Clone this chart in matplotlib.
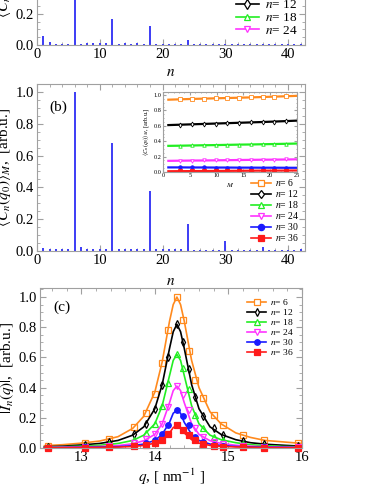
import matplotlib
matplotlib.use('Agg')
import matplotlib.pyplot as plt
from matplotlib.ticker import MultipleLocator

plt.rcParams['font.family'] = ['Liberation Serif', 'DejaVu Serif']
plt.rcParams['mathtext.fontset'] = 'stix'

# ---- data ----
n_vals = list(range(1, 43))
# panel (a): <C_n>_M at some q (top cut in the crop)
a_vals = [0.055, 0.02, 0.008, 0.008, 0.008, 1.0, 0.008, 0.01, 0.012, 0.015, 0.01, 0.17,
          0.008, 0.012, 0.008, 0.01, 0.008, 0.12, 0.008, 0.008, 0.008, 0.008, 0.008, 0.03,
          0.008, 0.008, 0.008, 0.008, 0.008, 0.008, 0.008, 0.008, 0.008, 0.008, 0.008, 0.008,
          0.008, 0.008, 0.008, 0.008, 0.008, 0.008]
# panel (b): <C_n(q0)>_M
b_vals = [0.022, 0.015, 0.01, 0.012, 0.015, 1.0, 0.025, 0.015, 0.01, 0.012, 0.01, 0.68,
          0.015, 0.012, 0.01, 0.01, 0.01, 0.38, 0.01, 0.01, 0.01, 0.01, 0.01, 0.17,
          0.008, 0.008, 0.008, 0.008, 0.008, 0.06, 0.008, 0.008, 0.008, 0.008, 0.008, 0.025,
          0.008, 0.008, 0.008, 0.008, 0.008, 0.012]

labels = ['$n$= 6', '$n$= 12', '$n$= 18', '$n$= 24', '$n$= 30', '$n$= 36']
colors = ['#ff8a1e', 'black', '#22ee22', '#ff33ff', '#1a1aff', '#ff1a1a']
markers = ['s', 'd', '^', 'v', 'o', 's']
filled = [False, False, False, False, True, True]

# inset: <C_n(q0)>_M vs M
M_vals = [1, 3.2, 5.4, 7.6, 9.8, 12, 14.2, 16.4, 18.6, 20.8, 23, 25]
inset_vals = [
    [0.940, 0.945, 0.950, 0.954, 0.958, 0.962, 0.966, 0.970, 0.975, 0.980, 0.985, 0.990],
    [0.610, 0.615, 0.620, 0.625, 0.630, 0.635, 0.640, 0.645, 0.650, 0.656, 0.662, 0.668],
    [0.340, 0.342, 0.345, 0.348, 0.350, 0.353, 0.356, 0.358, 0.361, 0.364, 0.367, 0.370],
    [0.145, 0.147, 0.149, 0.150, 0.152, 0.154, 0.156, 0.158, 0.160, 0.161, 0.163, 0.165],
    [0.060, 0.060, 0.059, 0.059, 0.058, 0.058, 0.057, 0.057, 0.056, 0.056, 0.055, 0.055],
    [0.010, 0.011, 0.012, 0.013, 0.014, 0.015, 0.016, 0.017, 0.018, 0.018, 0.019, 0.020],
]

# panel (c): |I_n(q)| curves
q_line = [12.5, 12.75, 13.0, 13.25, 13.5, 13.7, 13.85, 14.0, 14.1, 14.2, 14.25, 14.3,
          14.35, 14.4, 14.5, 14.6, 14.75, 14.9, 15.1, 15.3, 15.5, 15.75, 16.0]
I_line = [
    [0.015, 0.022, 0.032, 0.046, 0.075, 0.13, 0.21, 0.37, 0.57, 0.84, 0.95, 1.0,
     0.95, 0.84, 0.58, 0.40, 0.24, 0.16, 0.10, 0.07, 0.05, 0.04, 0.03],
    [0.008, 0.012, 0.02, 0.03, 0.05, 0.085, 0.14, 0.26, 0.42, 0.66, 0.77, 0.82,
     0.77, 0.66, 0.42, 0.26, 0.14, 0.09, 0.055, 0.035, 0.025, 0.018, 0.012],
    [0.005, 0.008, 0.012, 0.018, 0.03, 0.05, 0.085, 0.16, 0.28, 0.48, 0.58, 0.62,
     0.58, 0.48, 0.28, 0.16, 0.085, 0.055, 0.035, 0.022, 0.015, 0.01, 0.008],
    [0.003, 0.005, 0.007, 0.01, 0.016, 0.028, 0.048, 0.09, 0.16, 0.30, 0.38, 0.41,
     0.38, 0.30, 0.16, 0.09, 0.048, 0.03, 0.018, 0.012, 0.008, 0.006, 0.004],
    [0.002, 0.003, 0.004, 0.006, 0.009, 0.015, 0.026, 0.05, 0.09, 0.17, 0.23, 0.25,
     0.23, 0.17, 0.09, 0.05, 0.026, 0.017, 0.01, 0.007, 0.005, 0.004, 0.003],
    [0.001, 0.002, 0.003, 0.004, 0.006, 0.01, 0.017, 0.032, 0.055, 0.10, 0.135, 0.15,
     0.135, 0.10, 0.055, 0.032, 0.017, 0.011, 0.007, 0.005, 0.003, 0.002, 0.002],
]
q_pts = [12.55, 13.05, 13.38, 13.72, 13.88, 14.0, 14.1, 14.18, 14.3, 14.38, 14.46, 14.55,
         14.66, 14.8, 14.92, 15.2, 15.48, 15.95]
I_pts = [
    [0.015, 0.035, 0.06, 0.14, 0.23, 0.36, 0.56, 0.78, 1.0, 0.85, 0.64, 0.45, 0.33, 0.22, 0.155, 0.085, 0.055, 0.03],
    [0.008, 0.022, 0.04, 0.09, 0.16, 0.26, 0.42, 0.60, 0.82, 0.70, 0.52, 0.34, 0.21, 0.13, 0.085, 0.045, 0.026, 0.012],
    [0.005, 0.013, 0.024, 0.055, 0.10, 0.16, 0.28, 0.43, 0.62, 0.53, 0.39, 0.22, 0.13, 0.075, 0.05, 0.028, 0.015, 0.008],
    [0.003, 0.008, 0.014, 0.03, 0.058, 0.09, 0.16, 0.27, 0.41, 0.35, 0.25, 0.13, 0.075, 0.042, 0.028, 0.015, 0.008, 0.004],
    [0.002, 0.004, 0.008, 0.016, 0.03, 0.05, 0.09, 0.15, 0.25, 0.21, 0.15, 0.075, 0.04, 0.022, 0.015, 0.008, 0.005, 0.003],
    [0.001, 0.003, 0.005, 0.01, 0.018, 0.032, 0.055, 0.09, 0.15, 0.12, 0.085, 0.05, 0.025, 0.014, 0.009, 0.006, 0.003, 0.002],
]

bar_color = '#3c3cf5'
frame_color = '#a0a0a0'


def style_axes(ax, fs=10.5):
    for s in ax.spines.values():
        s.set_color(frame_color)
        s.set_linewidth(0.8)
    ax.tick_params(which='both', direction='in', top=True, right=True,
                   color=frame_color, labelsize=fs, pad=2)
    ax.tick_params(which='major', length=4)
    ax.tick_params(which='minor', length=2)


def handles(ax, ms=4.5, lw=1.2):
    hs = []
    for c, m, f, l in zip(colors, markers, filled, labels):
        h, = ax.plot([], [], color=c, marker=m, ms=ms, lw=lw, mew=0.9,
                     mfc=c if f else 'white', mec=c, label=l)
        hs.append(h)
    return hs


fig = plt.figure(figsize=(3.74, 4.84), dpi=100)

# ---- panel (a), cut off at the top ----
ax_a = fig.add_axes([0.0989, 0.907, 0.7166, 0.337])
ax_a.vlines(n_vals, 0, a_vals, color=bar_color, lw=1.4)
ax_a.set_xlim(0, 42.7)
ax_a.set_ylim(0, 1.05)
ax_a.xaxis.set_major_locator(MultipleLocator(10))
ax_a.xaxis.set_minor_locator(MultipleLocator(2))
ax_a.yaxis.set_major_locator(MultipleLocator(0.2))
ax_a.yaxis.set_minor_locator(MultipleLocator(0.05))
style_axes(ax_a)
ax_a.set_xlabel('$n$', fontsize=11, labelpad=4)
ax_a.set_ylabel(r'$\langle C_n(q)\rangle_M$, [arb.u.]', fontsize=11)
ax_a.yaxis.set_label_coords(-0.09, 0.5)
hs = handles(ax_a, ms=5)
ax_a.legend(handles=hs[:4], loc='lower right', bbox_to_anchor=(1.0, 0.0), frameon=False,
            fontsize=9.5, handlelength=1.8, handletextpad=0.4, labelspacing=0.05,
            borderaxespad=0.2)

# ---- panel (b) ----
ax_b = fig.add_axes([0.0989, 0.4814, 0.7166, 0.345])
ax_b.vlines(n_vals, 0, b_vals, color=bar_color, lw=1.4)
ax_b.set_xlim(0, 42.7)
ax_b.set_ylim(0, 1.05)
ax_b.xaxis.set_major_locator(MultipleLocator(10))
ax_b.xaxis.set_minor_locator(MultipleLocator(2))
ax_b.yaxis.set_major_locator(MultipleLocator(0.2))
ax_b.yaxis.set_minor_locator(MultipleLocator(0.05))
style_axes(ax_b)
ax_b.set_xlabel('$n$', fontsize=11, labelpad=6)
ax_b.set_ylabel(r'$\langle C_n(q_0)\rangle_M$,  [arb.u.]', fontsize=11)
ax_b.yaxis.set_label_coords(-0.09, 0.5)
ax_b.text(0.045, 0.86, '(b)', transform=ax_b.transAxes, fontsize=11, va='center')
hs = handles(ax_b, ms=4.5)
ax_b.legend(handles=hs, loc='lower right', bbox_to_anchor=(1.0, 0.01), frameon=False,
            fontsize=7, handlelength=2.0, handletextpad=0.4, labelspacing=0.0,
            borderaxespad=0.2)

# inset
ax_i = fig.add_axes([0.4358, 0.6446, 0.3583, 0.1653])
for vals, c, m, f in zip(inset_vals, colors, markers, filled):
    ax_i.plot(M_vals, vals, color=c, lw=1.6, marker=m, ms=2.5,
              mfc=c if f else 'white', mec=c, mew=0.6, markevery=list(range(1, 11)))
ax_i.set_xlim(0, 25)
ax_i.set_ylim(0, 1.04)
ax_i.xaxis.set_major_locator(MultipleLocator(5))
ax_i.xaxis.set_minor_locator(MultipleLocator(1))
ax_i.yaxis.set_major_locator(MultipleLocator(0.2))
ax_i.yaxis.set_minor_locator(MultipleLocator(0.05))
style_axes(ax_i, fs=4.5)
ax_i.tick_params(which='major', length=2, pad=1)
ax_i.tick_params(which='minor', length=1)
ax_i.set_xlabel('$M$', fontsize=5, labelpad=2)
ax_i.set_ylabel(r'$\langle C_n(q_0)\rangle_M$, [arb.u.]', fontsize=4.5, labelpad=2)

# ---- panel (c) ----
ax_c = fig.add_axes([0.107, 0.0744, 0.7005, 0.3306])
for k in range(6):
    c = colors[k]
    ax_c.plot(q_line, I_line[k], color=c, lw=1.2)
    ax_c.plot(q_pts, I_pts[k], ls='none', marker=markers[k], ms=4, color=c,
              mfc=c if filled[k] else 'none', mec=c, mew=0.9, clip_on=False)
ax_c.set_xlim(12.44, 16.0)
ax_c.set_ylim(0, 1.06)
ax_c.xaxis.set_major_locator(MultipleLocator(1))
ax_c.xaxis.set_minor_locator(MultipleLocator(0.2))
ax_c.yaxis.set_major_locator(MultipleLocator(0.2))
ax_c.yaxis.set_minor_locator(MultipleLocator(0.05))
style_axes(ax_c)
ax_c.set_xlabel(r'$q$, [ nm$^{-1}$ ]', fontsize=11, labelpad=2)
ax_c.set_ylabel(r'$|I_n(q)|$,  [arb.u.]', fontsize=11)
ax_c.yaxis.set_label_coords(-0.09, 0.5)
ax_c.text(0.05, 0.88, '(c)', transform=ax_c.transAxes, fontsize=11, va='center')
hs = handles(ax_c, ms=4)
ax_c.legend(handles=hs, loc='upper right', bbox_to_anchor=(0.99, 0.98), frameon=False,
            fontsize=6.8, handlelength=2.0, handletextpad=0.4, labelspacing=0.0,
            borderaxespad=0.2)

fig.savefig('out.png', dpi=100)
